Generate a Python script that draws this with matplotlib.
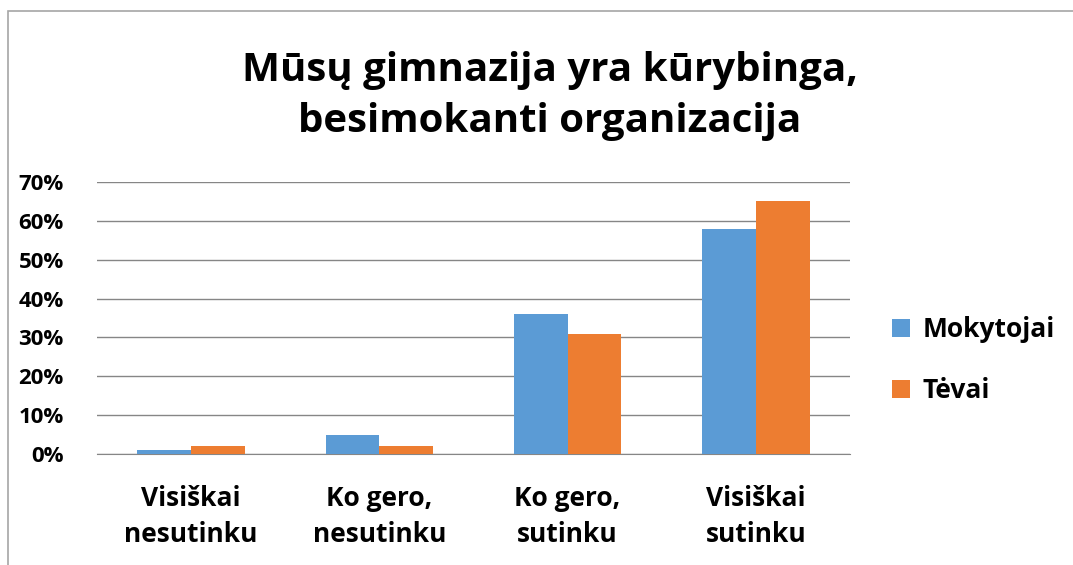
import matplotlib.pyplot as plt
import numpy as np
from matplotlib.patches import Rectangle

categories = ["Visiškai\nnesutinku", "Ko gero,\nnesutinku", "Ko gero,\nsutinku", "Visiškai\nsutinku"]
mokytojai = [1, 5, 36, 58]
tevai = [2, 2, 31, 65]
series_names = ["Mokytojai", "Tėvai"]
yticks = [0, 10, 20, 30, 40, 50, 60, 70]

BLUE = "#5b9bd5"
ORANGE = "#ed7d31"
GRID = "#868686"

plt.rcParams["font.family"] = ["Open Sans", "DejaVu Sans"]
plt.rcParams["font.weight"] = "bold"

fig = plt.figure(figsize=(10.73, 5.65), dpi=100)
ax = fig.add_axes([97 / 1073, 1 - 454 / 565, 753 / 1073, 272 / 565])

# outer chart border (only left/top visible in the original crop)
fig.patches.append(Rectangle((8 / 1073, -0.1), 1.2, 1 - 11 / 565 + 0.1,
                             transform=fig.transFigure, fill=False,
                             edgecolor="#a6a6a6", linewidth=1.2))

x = np.arange(len(categories))
w = 0.285
ax.bar(x - w / 2, mokytojai, width=w, color=BLUE, label=series_names[0], zorder=3)
ax.bar(x + w / 2, tevai, width=w, color=ORANGE, label=series_names[1], zorder=3)

ax.set_xlim(-0.5, len(categories) - 0.5)
ax.set_ylim(0, 70)
ax.set_yticks(yticks)
ax.set_yticklabels([f"{t}%" for t in yticks], fontsize=16, fontweight="bold")
ax.set_xticks(x)
ax.set_xticklabels(categories, fontsize=19, fontweight="bold", linespacing=1.45)
ax.tick_params(axis="both", length=0)
ax.tick_params(axis="y", pad=24)
ax.tick_params(axis="x", pad=22)
ax.yaxis.grid(True, color=GRID, linewidth=1)
ax.set_axisbelow(True)
for side in ["left", "right", "top"]:
    ax.spines[side].set_visible(False)
ax.spines["bottom"].set_color(GRID)

fig.text(550 / 1073, 1 - 96 / 565, "Mūsų gimnazija yra kūrybinga,\nbesimokanti organizacija",
         ha="center", va="center", fontsize=29, fontweight="bold", linespacing=1.4)

ax.legend(loc="center left", bbox_to_anchor=(1.024, 0.345), frameon=False,
          handlelength=0.7, handleheight=0.7, handletextpad=0.45,
          labelspacing=1.3, prop={"weight": "bold", "size": 19})

fig.savefig("out.png", dpi=100)
